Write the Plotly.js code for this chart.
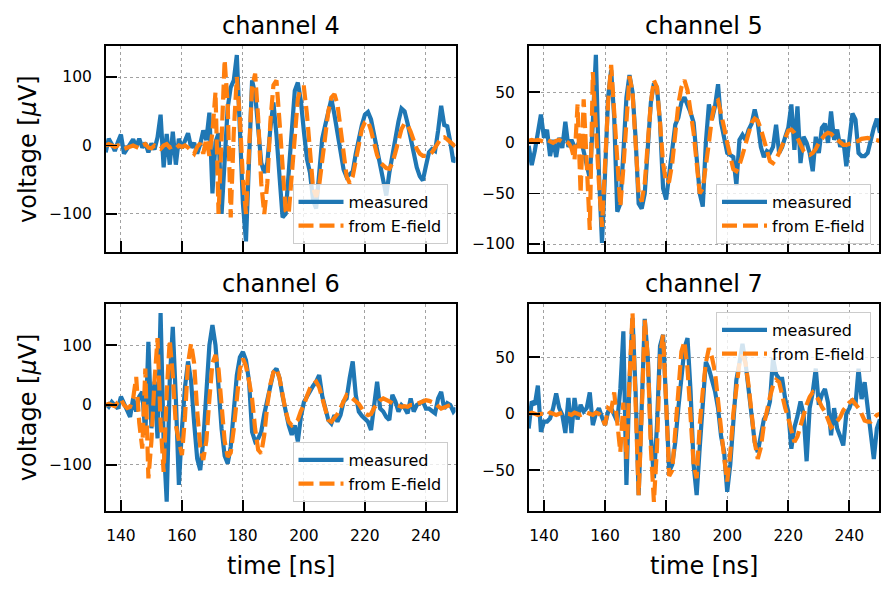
<!DOCTYPE html>
<html><head><meta charset="utf-8">
<script src="https://cdn.plot.ly/plotly-3.0.1.min.js"></script>
<style>html,body{margin:0;padding:0;background:#fff}#chart{width:894px;height:593px}</style>
</head><body><div id="chart"></div>
<script>
const time = [135,136,137,138,139,140,141,142,143,144,145,146,147,148,149,150,151,152,153,154,
155,156,157,158,159,160,161,162,163,164,165,166,167,168,169,170,171,172,173,174,
175,176,177,178,179,180,181,182,183,184,185,186,187,188,189,190,191,192,193,194,
195,196,197,198,199,200,201,202,203,204,205,206,207,208,209,210,211,212,213,214,
215,216,217,218,219,220,221,222,223,224,225,226,227,228,229,230,231,232,233,234,
235,236,237,238,239,240,241,242,243,244,245,246,247,248,249,250];

const ch4Measured = [-10,10,2,-8,5,16,-12,-6,2,9, -2,10,-3,4,-10,3,-6,12,45,-32,
17,-28,20,-28,10,-4,6,18,-3,4, -12,2,22,8,48,-70,5,18,-100,-30,
55,85,95,132,15,-85,-140,-20,95,75, 15,-25,-40,-25,25,63,15,-55,-105,-100,
-40,30,80,92,65,20,-20,-40,-80,-92, -45,10,30,50,68,45,20,-10,-35,-46,
-42,-38,-12,10,30,45,49,38,15,-10, -30,-50,-73,-40,-12,8,35,54,50,32,
10,-15,-32,-45,-51,-30,-10,-5,-8,22, 58,30,28,5,-24,-18];
const ch4EField = [0,2,0,-2,0,-4,-5,-3,-2,0, -2,-4,0,2,-3,-4,0,-2,-5,0,
2,-3,-1,-4,0,-2,0,-3,-8,-12, -2,3,-12,10,-15,20,78,-100,10,125,
60,-105,20,100,40,-50,-100,0,85,105, 40,-55,-100,-55,35,88,95,35,-40,-95,
-100,-40,25,68,85,85,45,-15,-62,-75, -58,-22,18,50,70,75,60,22,-18,-45,
-55,-45,-22,3,24,34,36,22,2,-14, -25,-30,-33,-34,-26,-10,8,24,32,30,
20,6,-5,-12,-15,-15,-14,-10,-4,4, 11,12,9,5,0,-3];

const ch5Measured = [-3,-22,-8,10,28,5,13,-13,3,-14, 5,-5,21,-4,3,-4,-3,5,-10,-23,
-35,20,87,-30,-99,-30,45,72,25,-68, -60,-10,45,67,50,5,-60,-65,-50,-5,
40,59,55,20,-45,-56,-30,0,18,25, 40,45,38,30,20,-15,-50,-63,0,38,
23,36,58,20,3,-10,-12,-14,-42,3, 8,3,13,19,33,20,-4,-14,-8,-10,
-4,18,-10,-4,6,15,38,-7,36,-20, 6,0,-10,-28,6,-10,15,19,0,31,
3,13,-4,3,-23,3,29,23,-10,-13, -13,-10,3,15,24,10];
const ch5EField = [2,3,2,3,2,1,3,2,0,2, 3,1,2,0,-5,-17,38,-50,43,-20,
-86,70,10,-40,-83,-20,40,77,30,-30, -63,-25,30,66,50,0,-50,-58,-40,0,
40,62,55,20,-20,-40,-38,-20,10,38, 55,62,52,32,10,-20,-50,-45,-25,0,
25,40,42,30,15,0,-15,-26,-28,-22, -12,0,12,20,24,22,14,3,-10,-18,
-20,-16,-10,-2,6,12,13,10,5,-2, -8,-11,-12,-10,-6,0,5,8,10,9,
6,3,0,-2,-2,-1,0,0,2,4, 5,5,4,3,3,2];

const ch6Measured = [2,-3,5,0,-6,14,2,-8,-20,11, -11,14,22,-50,106,-39,39,-56,154,-60,
-162,40,131,11,-134,-40,30,73,40,-30, -90,-109,-60,20,100,134,100,30,-40,-85,
-98,-70,-10,50,80,89,75,40,-45,-61, -56,-45,-15,10,35,55,61,45,15,-10,
-34,-50,-34,-61,-20,5,15,25,32,39, 50,15,-6,-25,-31,-17,-28,-17,6,11,
45,73,17,-11,-18,-22,-28,-42,-6,39, -6,-11,-20,-25,17,6,-11,0,-5,-14,
11,-11,0,3,6,-6,-6,-10,-14,11, 22,-6,3,0,-11,-5];
const ch6EField = [0,2,0,-2,5,10,0,-5,-3,11, 47,-30,-73,61,-123,-60,40,112,-30,-112,
20,109,50,-34,-60,-84,-20,70,103,70, -10,-70,-92,-60,10,70,84,60,0,-60,
-87,-80,-40,20,60,78,65,40,11,-40, -75,-81,-50,0,35,55,61,45,15,-10,
-28,-34,-30,-25,-10,0,15,28,35,39, 30,10,-10,-25,-28,-22,-15,-5,8,17,
15,11,8,2,-6,-14,-17,-15,-5,3, 8,11,9,6,3,1,0,-3,-2,-3,
0,0,2,4,6,8,7,5,3,-2, -6,-4,-2,0,0,0];

const ch7Measured = [-13,11,8,25,-16,-7,-7,-4,5,18, 5,-1,-17,14,-17,14,-5,8,2,5,
19,-10,0,5,-3,-10,2,5,-1,-7, 22,73,-63,28,85,20,-72,0,84,50,
-20,-57,-10,60,70,10,-51,-45,-25,5, 35,58,67,20,-45,-72,-30,13,46,40,
30,20,5,-20,-34,-69,-45,-5,30,45, 62,45,20,-5,-25,-34,-20,-5,0,11,
49,35,31,31,13,2,-31,-12,-2,11, 0,-42,5,19,40,8,17,22,10,-19,
5,-13,-20,-28,0,5,13,8,40,13, 28,5,-16,-40,-13,-5];
const ch7EField = [0,1,0,-1,0,0,-1,1,0,-1, 0,1,0,0,-1,1,0,-1,0,1,
0,-1,1,0,-3,-10,5,3,19,-5, -34,10,-40,30,89,10,-72,0,83,50,
-30,-78,-30,50,70,10,-55,-50,-20,20, 55,64,40,0,-45,-57,-10,20,45,58,
50,37,10,-15,-39,-60,-35,0,25,45, 52,45,25,-5,-25,-40,-30,-10,5,15,
25,30,28,15,5,-4,-15,-25,-20,-10, 0,8,15,19,16,12,6,2,-5,-12,
-10,-7,-3,3,7,10,12,9,5,0, -6,-7,-7,-4,-1,0];

const channelNames = ['channel 4','channel 5','channel 6','channel 7'];
const seriesNames = ['measured','from E-field'];
const xTicks = [140,160,180,200,220,240];
const yTicks = [[-100,0,100],[-100,-50,0,50],[-100,0,100],[-50,0,50]];
const xLabel = 'time [ns]';
const yLabel = 'voltage [<i>μ</i>V]';

const measured = [ch4Measured, ch5Measured, ch6Measured, ch7Measured];
const efield = [ch4EField, ch5EField, ch6EField, ch7EField];

const W = 894, H = 593;
const xDom = [[106/W, 455.5/W],[529/W, 879/W],[106/W, 455.5/W],[529/W, 879/W]];
const yDom = [[1-252/H, 1-46/H],[1-252/H, 1-46/H],[1-510.5/H, 1-304/H],[1-510.5/H, 1-304/H]];
const yRanges = [[-155.5,145.3],[-107.9,95.8],[-176.7,169.2],[-85.6,97.2]];
const legendPos = [
  {x:447.5/W, y:1-244/H, xanchor:'right', yanchor:'bottom'},
  {x:871/W, y:1-244/H, xanchor:'right', yanchor:'bottom'},
  {x:447.5/W, y:1-502/H, xanchor:'right', yanchor:'bottom'},
  {x:871/W, y:1-312/H, xanchor:'right', yanchor:'top'}
];

const FONT = 'DejaVu Sans, sans-serif';
const traces = [];
const layout = {
  width: W, height: H,
  margin: {l:0, r:0, t:0, b:0},
  paper_bgcolor: '#fff', plot_bgcolor: '#fff',
  font: {family: FONT, color: '#000', size: 15.5},
  annotations: []
};

for (let i = 0; i < 4; i++) {
  const sfx = i === 0 ? '' : String(i+1);
  const lg = 'legend' + sfx;
  traces.push({
    x: time, y: measured[i], type: 'scatter', mode: 'lines', name: seriesNames[0],
    xaxis: 'x'+sfx, yaxis: 'y'+sfx, legend: lg,
    line: {color: '#1f77b4', width: 4.2}
  });
  traces.push({
    x: time, y: efield[i], type: 'scatter', mode: 'lines', name: seriesNames[1],
    xaxis: 'x'+sfx, yaxis: 'y'+sfx, legend: lg,
    line: {color: '#ff7f0e', width: 4.2, dash: '15px,6px'}
  });
  const common = {
    showline: true, linecolor: '#000', linewidth: 2, mirror: true,
    ticks: 'inside', ticklen: 11, tickwidth: 1.8, tickcolor: '#000',
    showgrid: true, gridcolor: '#8a8a8a', gridwidth: 0.8, griddash: 'dot',
    zeroline: false, tickfont: {family: FONT, size: 15.5, color: '#000'}
  };
  layout['xaxis'+sfx] = Object.assign({}, common, {
    domain: xDom[i], range: [135.1, 249.7], anchor: 'y'+sfx,
    tickmode: 'array', tickvals: xTicks, ticktext: xTicks.map(String),
    showticklabels: i >= 2, ticklabelstandoff: 10
  });
  layout['yaxis'+sfx] = Object.assign({}, common, {
    domain: yDom[i], range: yRanges[i], anchor: 'x'+sfx,
    tickmode: 'array', tickvals: yTicks[i],
    ticktext: yTicks[i].map(v => v < 0 ? '\u2212' + Math.abs(v) : String(v)),
    ticklabelstandoff: 9
  });
  layout[lg] = Object.assign({}, legendPos[i], {
    bgcolor: 'rgba(255,255,255,0.8)', bordercolor: '#cccccc', borderwidth: 1,
    font: {family: FONT, size: 16, color: '#000'}, itemwidth: 45
  });
  const cx = (xDom[i][0] + xDom[i][1]) / 2;
  layout.annotations.push({
    text: channelNames[i], xref: 'paper', yref: 'paper', x: cx,
    y: i < 2 ? 1-26/H : 1-284/H, xanchor: 'center', yanchor: 'middle',
    showarrow: false, font: {family: FONT, size: 24, color: '#000'}
  });
  if (i >= 2) {
    layout.annotations.push({
      text: xLabel, xref: 'paper', yref: 'paper', x: cx, y: 1-566/H,
      xanchor: 'center', yanchor: 'middle', showarrow: false,
      font: {family: FONT, size: 24, color: '#000'}
    });
  }
  if (i % 2 === 0) {
    layout.annotations.push({
      text: yLabel, xref: 'paper', yref: 'paper', x: 28/W,
      y: (yDom[i][0] + yDom[i][1]) / 2, xanchor: 'center', yanchor: 'middle',
      textangle: -90, showarrow: false,
      font: {family: FONT, size: 24, color: '#000'}
    });
  }
}

Plotly.newPlot('chart', traces, layout, {displayModeBar: false, staticPlot: true});
</script></body></html>
